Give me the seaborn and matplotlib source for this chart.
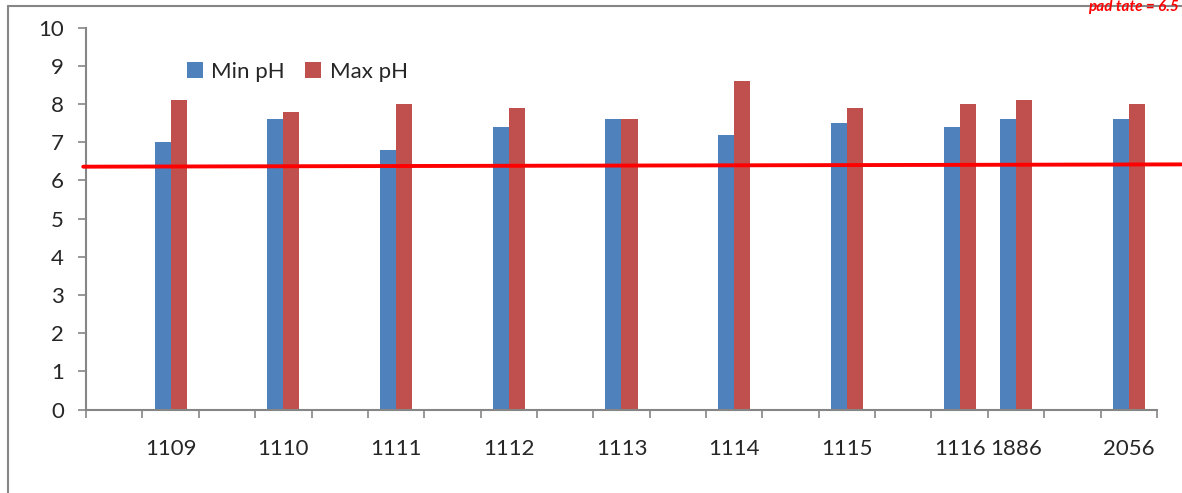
import numpy as np
import pandas as pd
import matplotlib
matplotlib.use("Agg")
import matplotlib.pyplot as plt
import seaborn as sns
from matplotlib.lines import Line2D

# x slots along the category axis ("" = empty slot)
slot_labels = ["", "1109", "", "1110", "", "1111", "", "1112", "", "1113",
               "", "1114", "", "1115", "", "1116", "1886", "", "2056"]
sites = ["1109", "1110", "1111", "1112", "1113", "1114", "1115", "1116", "1886", "2056"]
min_ph = [7.0, 7.6, 6.8, 7.4, 7.6, 7.2, 7.5, 7.4, 7.6, 7.6]
max_ph = [8.1, 7.8, 8.0, 7.9, 7.6, 8.6, 7.9, 8.0, 8.1, 8.0]
# red reference line (hand drawn, slightly tilted)
ref_x = [-0.55, 18.93]
ref_y = [6.36, 6.42]
note_text = "pad tate = 6.5"

order = [lab if lab else f"gap{i}" for i, lab in enumerate(slot_labels)]
df = pd.DataFrame({
    "site": sites * 2,
    "pH": min_ph + max_ph,
    "series": ["Min pH"] * len(sites) + ["Max pH"] * len(sites),
})

sns.set_style("white")
plt.rcParams["font.family"] = ["Lato", "DejaVu Sans"]
grey = "#868686"

fig = plt.figure(figsize=(11.82, 4.93), dpi=100)
ax = fig.add_axes([0.0728, 0.169, 0.906, 0.775])

sns.barplot(data=df, x="site", y="pH", hue="series", order=order,
            hue_order=["Min pH", "Max pH"], palette=["#4F81BD", "#C0504D"],
            saturation=1, width=0.57, linewidth=0, ax=ax)

ax.set_xlim(-0.5, len(order) - 0.5)
ax.set_ylim(0, 10)
ax.set_yticks(range(0, 11))
ax.set_xlabel("")
ax.set_ylabel("")

# ticks between categories, labels at centres
ax.set_xticks(np.arange(-0.5, len(order), 1.0))
ax.set_xticklabels([])
ax.set_xticks(np.arange(len(order)), minor=True)
ax.set_xticklabels(slot_labels, minor=True)
ax.tick_params(axis="x", which="major", direction="out", length=6, width=1.2,
               color=grey, bottom=True)
ax.tick_params(axis="x", which="minor", length=0, pad=21, labelsize=16)
ax.tick_params(axis="y", direction="out", length=6, width=1.2, color=grey,
               left=True, pad=10, labelsize=16)

for s in ["top", "right"]:
    ax.spines[s].set_visible(False)
for s in ["left", "bottom"]:
    ax.spines[s].set_color(grey)
    ax.spines[s].set_linewidth(1.5)

ax.plot(ref_x, ref_y, color="#FF0000", lw=2.8, clip_on=False, zorder=5)

ax.legend(loc="center left", bbox_to_anchor=(0.086, 0.885), ncol=2, frameon=False,
          fontsize=16, handlelength=0.7, handleheight=0.7, handletextpad=0.4,
          columnspacing=0.9, borderaxespad=0)

# outer chart border (top and left visible)
fig.add_artist(Line2D([8 / 1182, 8 / 1182], [0, 1 - 6 / 493], color=grey, lw=1.5))
fig.add_artist(Line2D([8 / 1182, 1], [1 - 6 / 493, 1 - 6 / 493], color=grey, lw=1.5))

fig.text(0.997, 0.999, note_text, color="#FF0000", fontsize=11, fontweight="bold",
         style="italic", ha="right", va="top")

fig.savefig("out.png", dpi=100)
